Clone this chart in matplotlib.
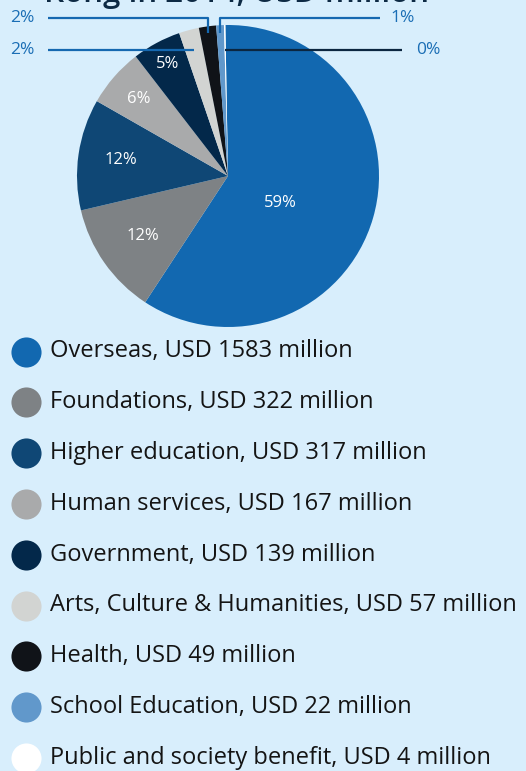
import numpy as np
import matplotlib
matplotlib.use('Agg')
import matplotlib.pyplot as plt

plt.rcParams['font.family'] = ['Open Sans', 'DejaVu Sans']

categories = ['Overseas', 'Foundations', 'Higher education', 'Human services',
              'Government', 'Arts, Culture & Humanities', 'Health',
              'School Education', 'Public and society benefit']
values = [1583, 322, 317, 167, 139, 57, 49, 22, 4]
pct_labels = ['59%', '12%', '12%', '6%', '5%', '2%', '2%', '1%', '0%']
colors = ['#1268b0', '#7e8285', '#0f4775', '#a9aaab', '#03284a',
          '#d2d4d2', '#101318', '#6198cb', '#ffffff']

bg = '#d8eefc'
W, H = 526, 771
fig = plt.figure(figsize=(W / 100, H / 100), dpi=100, facecolor=bg)
ax = fig.add_axes([0, 0, 1, 1])

cx, cy, r = 228, H - 176, 151
start = 91
wedges, _ = ax.pie(values, colors=colors, startangle=start, counterclock=False,
                   center=(cx, cy), radius=r, frame=True,
                   wedgeprops=dict(linewidth=0))
ax.set_xlim(0, W)
ax.set_ylim(0, H)
ax.set_aspect('equal')
ax.axis('off')

# percent labels inside the larger slices
inner_dist = [0.39, 0.69, 0.72, 0.78, 0.84]
inner_turn = [-11, 0, 0, 0, 0]
for w, lab, d, t in zip(wedges[:5], pct_labels[:5], inner_dist, inner_turn):
    mid = np.deg2rad((w.theta1 + w.theta2) / 2 + t)
    ax.text(cx + d * r * np.cos(mid), cy + d * r * np.sin(mid), lab,
            color='white', fontsize=12, ha='center', va='center')

# leader lines for the small slices
line_blue = '#1568b0'
lab_blue = '#1a6eb5'
top_y, mid_y = H - 18, H - 50
# (slice index, level y, end x of horizontal part, text x, use elbow, line colour)
callouts = [(6, top_y, 48, 22, True, line_blue),
            (5, mid_y, 48, 22, False, line_blue),
            (7, top_y, 380, 403, True, line_blue),
            (8, mid_y, 402, 428, False, '#0b2640')]
for idx, ly, ex, tx, elbow, lc in callouts:
    w = wedges[idx]
    mid = np.deg2rad((w.theta1 + w.theta2) / 2)
    if elbow:
        py = H - 33
        px = cx + (py - cy) / np.tan(mid)
        xs, ys = [ex, px, px], [ly, ly, py]
    else:
        px = cx + (ly - cy) / np.tan(mid)
        xs, ys = [ex, px], [ly, ly]
    ax.plot(xs, ys, color=lc, lw=1.6, solid_capstyle='butt', zorder=3)
    ax.text(tx, ly, pct_labels[idx], color=lab_blue, fontsize=12.5,
            ha='center', va='center')

# title (only its lower part is visible)
ax.text(237, H - 2, 'Kong in 2014, USD million', color='#0d2a44',
        fontsize=22.5, fontweight='semibold', ha='center', va='baseline')

# legend
for i, (cat, v, c) in enumerate(zip(categories, values, colors)):
    y = H - (351.5 + i * 50.8)
    ax.scatter([26], [y], s=470, color=c, linewidths=0, zorder=3)
    ax.text(50, y, f'{cat}, USD {v} million', color='#141414', fontsize=17,
            ha='left', va='center')

fig.savefig('out.png', dpi=100, facecolor=bg)
